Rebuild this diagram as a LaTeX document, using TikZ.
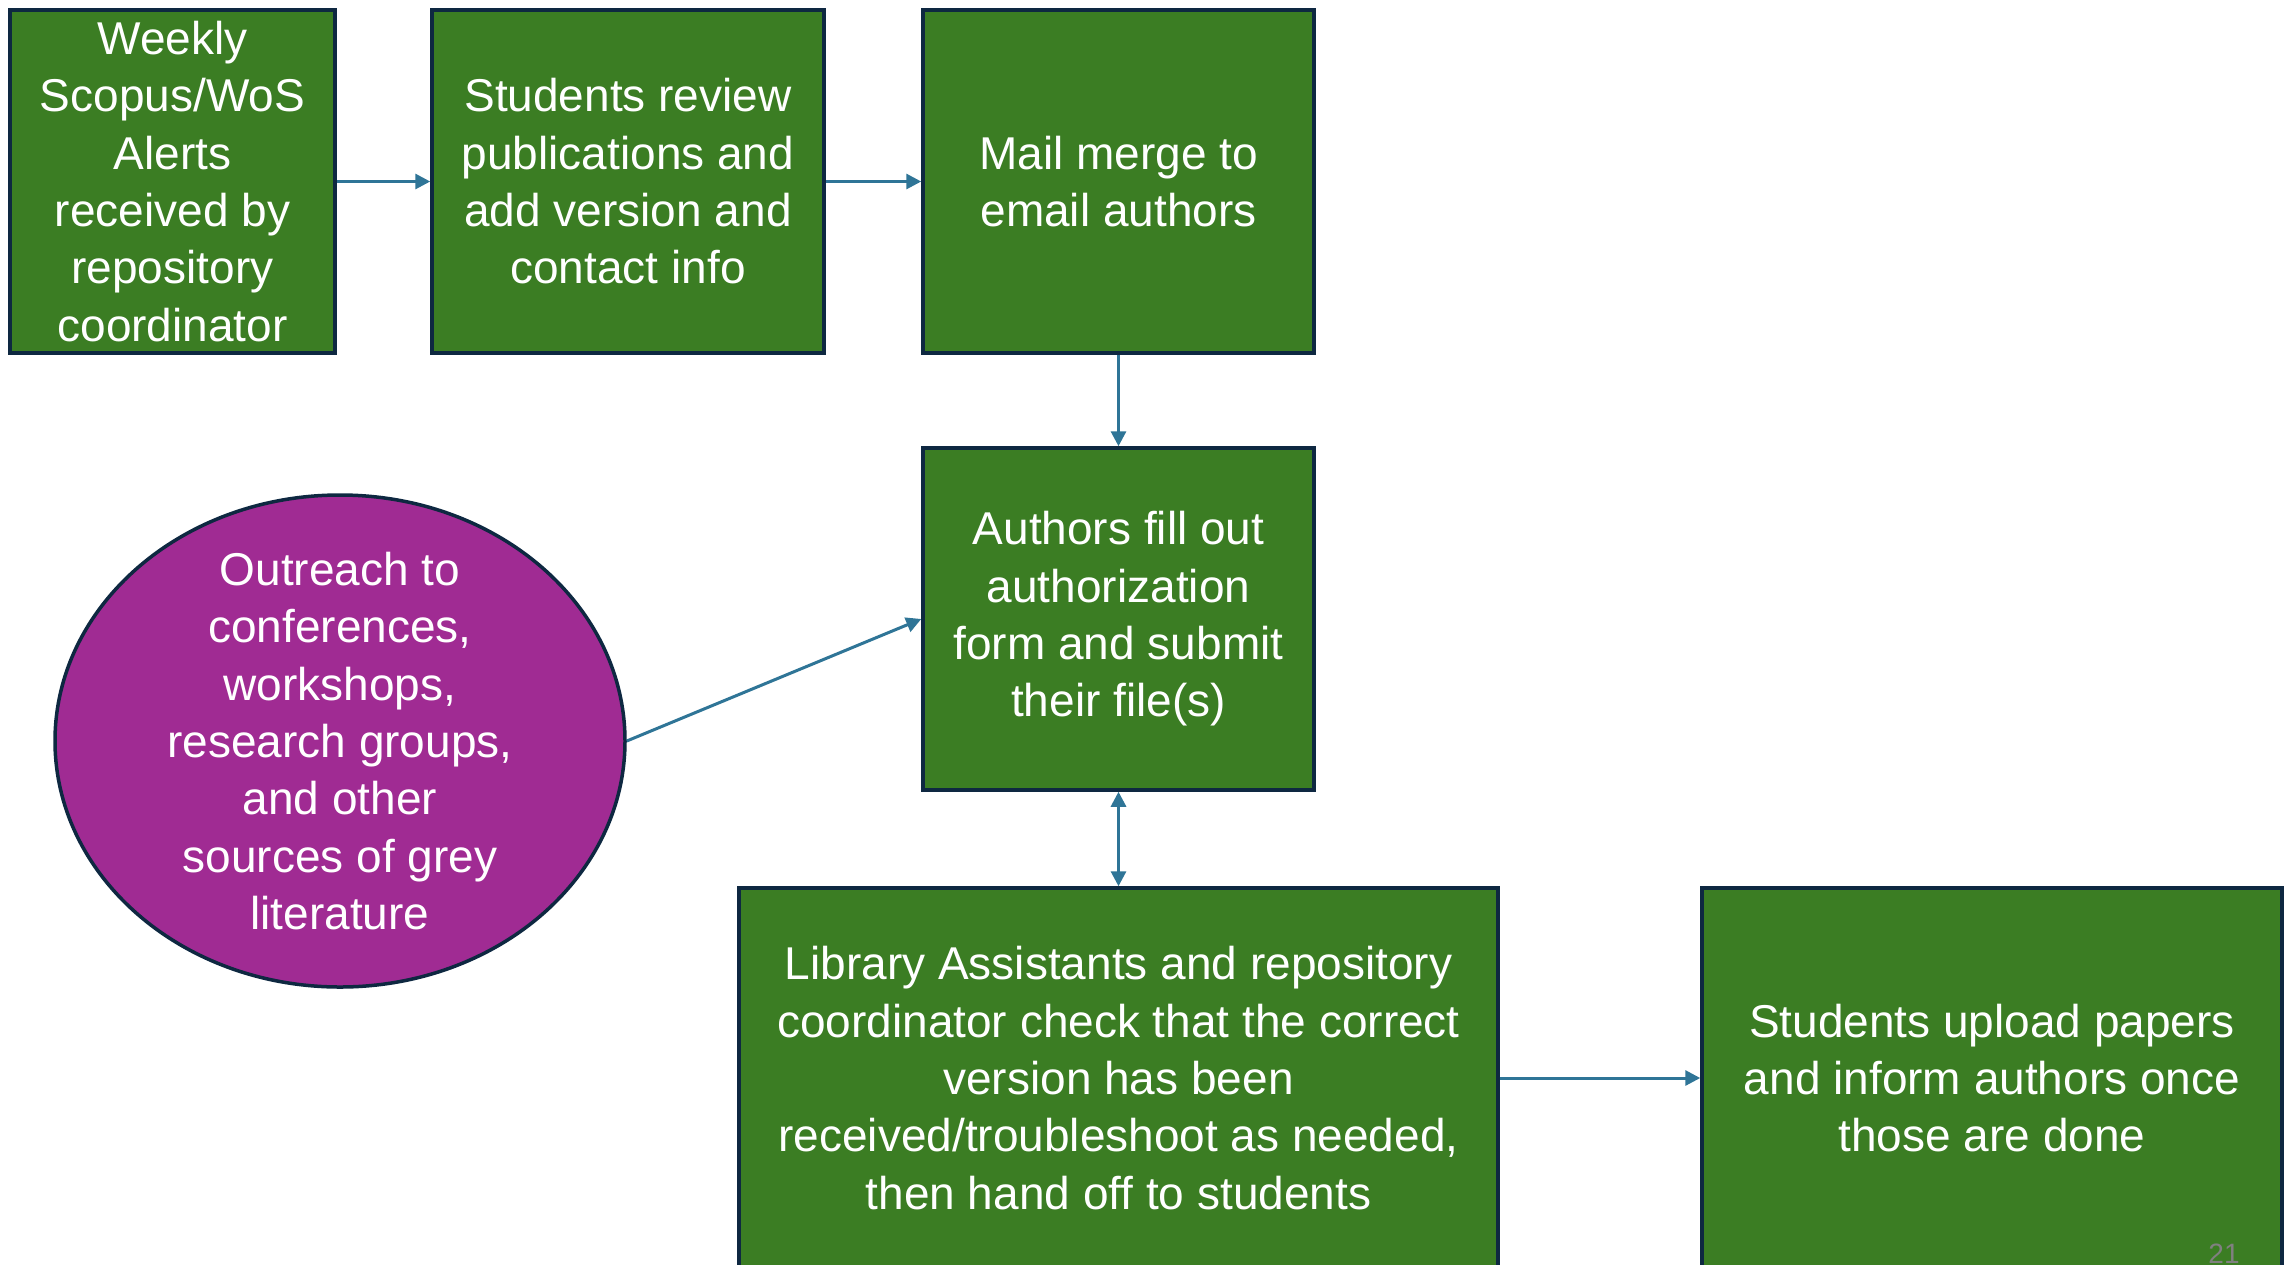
\documentclass[tikz,border=0pt]{standalone}
\usepackage{fontspec}
\setmainfont{Liberation Sans}
\usetikzlibrary{arrows.meta,shapes.geometric}
\definecolor{boxgreen}{HTML}{3B7D23}
\definecolor{boxedge}{HTML}{0E2841}
\definecolor{ovalpurple}{HTML}{A02B93}
\definecolor{arrowblue}{HTML}{2F7597}
\definecolor{pagegray}{HTML}{808080}
\tikzset{
  stepbox/.style={draw=boxedge, fill=boxgreen, line width=3.5pt, text=white,
    align=center, inner sep=0pt, font=\fontsize{46}{57.3}\selectfont},
  ovalbox/.style={ellipse, draw=boxedge, fill=ovalpurple, line width=3.5pt,
    inner sep=0pt},
  ovaltext/.style={text=white, align=center, inner sep=0pt, font=\fontsize{46}{57.3}\selectfont},
  flow/.style={draw=arrowblue, line width=3pt, -{Triangle[length=15pt,width=15pt]}},
  flowboth/.style={draw=arrowblue, line width=3pt, {Triangle[length=15pt,width=15pt]}-{Triangle[length=15pt,width=15pt]}}
}
\begin{document}
\begin{tikzpicture}[x=1pt,y=-1pt]
\useasboundingbox[fill=white] (0,0) rectangle (2290,1264);
\node[stepbox, minimum width=325pt, minimum height=343pt] (b1) at (172.5,181.5)
  {Weekly\\Scopus/WoS\\Alerts\\received by\\repository\\coordinator};
\node[stepbox, minimum width=392pt, minimum height=343pt] (b2) at (628,181.5)
  {Students review\\publications and\\add version and\\contact info};
\node[stepbox, minimum width=391pt, minimum height=343pt] (b3) at (1118.5,181.5)
  {Mail merge to\\email authors};
\node[stepbox, minimum width=391pt, minimum height=342pt] (b4) at (1118.5,619)
  {Authors fill out\\authorization\\form and submit\\their file(s)};
\node[ovalbox, minimum width=570pt, minimum height=492pt] (ov) at (340,741) {};
\node[ovaltext] (ovt) at (ov.center)
  {Outreach to\\conferences,\\workshops,\\research groups,\\and other\\sources of grey\\literature};
\node[stepbox, minimum width=759pt, minimum height=380pt] (b5) at (1118.5,1078)
  {Library Assistants and repository\\coordinator check that the correct\\version has been\\received/troubleshoot as needed,\\then hand off to students};
\node[stepbox, minimum width=580pt, minimum height=380pt] (b6) at (1992,1078)
  {Students upload papers\\and inform authors once\\those are done};
\node[text=pagegray, anchor=north, inner sep=0pt, font=\fontsize{28}{33}\selectfont] (pg) at (2224,1244) {21};
\draw[flow] (b1.east) -- (b2.west);
\draw[flow] (b2.east) -- (b3.west);
\draw[flow] (b3.south) -- (b4.north);
\draw[flow] (ov.east) -- (b4.west);
\draw[flowboth] (b4.south) -- (b5.north);
\draw[flow] (b5.east) -- (b6.west);
\end{tikzpicture}
\end{document}
